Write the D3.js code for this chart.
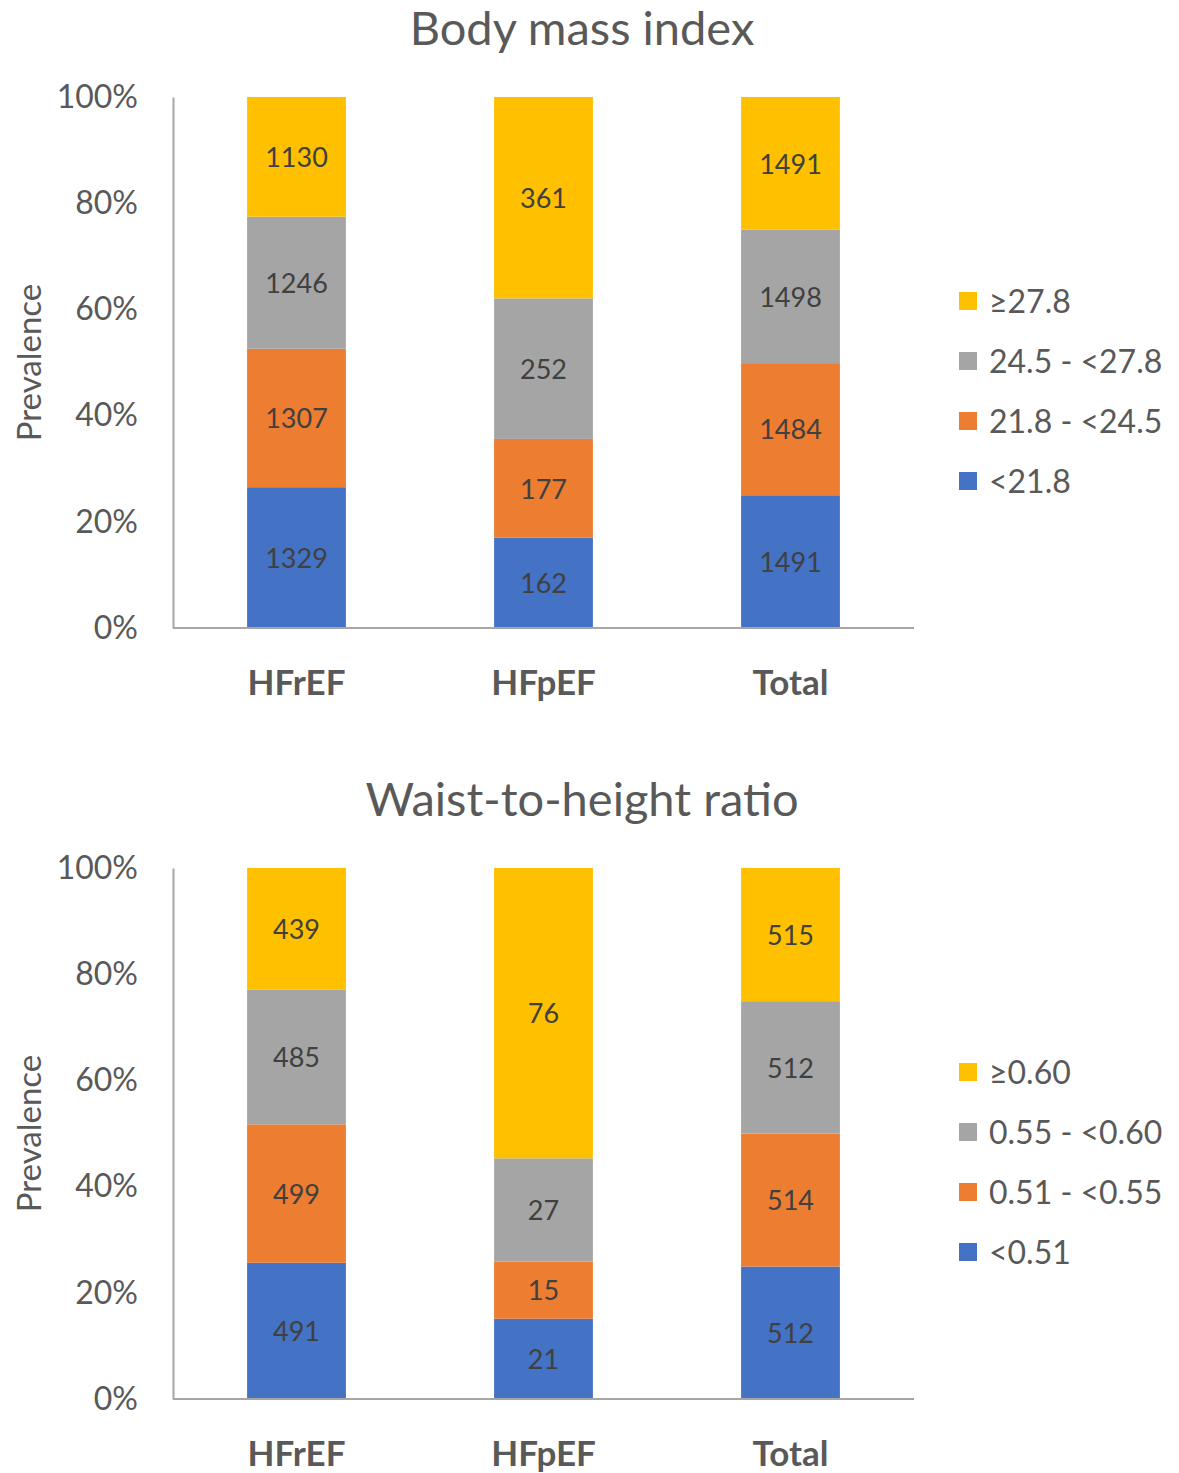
<!DOCTYPE html>
<html>
<head>
<meta charset="utf-8">
<script src="https://cdn.jsdelivr.net/npm/d3@7"></script>
<style>
  html, body { margin: 0; padding: 0; background: #fff; }
  svg { display: block; }
  text { font-family: Lato, "Open Sans", sans-serif; }
</style>
</head>
<body>
<svg id="chart" width="1179" height="1473"></svg>
<script>
const categories = ["HFrEF", "HFpEF", "Total"];
const yTicks = [0, 0.2, 0.4, 0.6, 0.8, 1.0];

const bmiTitle = "Body mass index";
const bmiSeries = ["<21.8", "21.8 - <24.5", "24.5 - <27.8", "\u226527.8"];
const bmiLt218   = [1329, 162, 1491];
const bmi218_245 = [1307, 177, 1484];
const bmi245_278 = [1246, 252, 1498];
const bmiGe278   = [1130, 361, 1491];

const whrTitle = "Waist-to-height ratio";
const whrSeries = ["<0.51", "0.51 - <0.55", "0.55 - <0.60", "\u22650.60"];
const whrLt051   = [491, 21, 512];
const whr051_055 = [499, 15, 514];
const whr055_060 = [485, 27, 512];
const whrGe060   = [439, 76, 515];

const colors = ["#4472C4", "#ED7D31", "#A5A5A5", "#FFC000"];

const svg = d3.select("#chart");

function drawPanel(cfg) {
  const { top, title, series, values } = cfg;
  const g = svg.append("g");
  const x0 = 173, x1 = 914;
  const yTop = top + 97, yBot = top + 628;

  const x = d3.scaleBand().domain(categories).range([x0, x1]).paddingInner(0.6).paddingOuter(0.3);
  const y = d3.scaleLinear().domain([0, 1]).range([yBot, yTop]);

  const rows = categories.map((c, i) => {
    const r = { cat: c };
    series.forEach((s, j) => r[s] = values[j][i]);
    return r;
  });
  const stack = d3.stack().keys(series).offset(d3.stackOffsetExpand);
  const stacked = stack(rows);

  // title
  g.append("text")
    .attr("x", 582).attr("y", top + 45)
    .attr("text-anchor", "middle")
    .attr("font-size", 47)
    .attr("fill", "#595959")
    .text(title);

  // bars
  stacked.forEach((layer, j) => {
    g.selectAll(null).data(layer).enter().append("rect")
      .attr("x", d => x(d.data.cat))
      .attr("width", x.bandwidth())
      .attr("y", d => y(d[1]))
      .attr("height", d => y(d[0]) - y(d[1]))
      .attr("fill", colors[j]);
    g.selectAll(null).data(layer).enter().append("text")
      .attr("x", d => x(d.data.cat) + x.bandwidth() / 2)
      .attr("y", d => (y(d[0]) + y(d[1])) / 2)
      .attr("dy", "0.38em")
      .attr("text-anchor", "middle")
      .attr("font-size", 27)
      .attr("fill", "#404040")
      .text(d => d.data[layer.key]);
  });

  // y axis
  const yAxis = d3.axisLeft(y).tickValues(yTicks).tickFormat(d3.format(".0%")).tickSize(0).tickPadding(35);
  const ya = g.append("g").attr("transform", `translate(${x0},0)`).call(yAxis);
  ya.select(".domain").attr("stroke", "#A6A6A6").attr("stroke-width", 2);
  ya.selectAll("text").attr("font-size", 32).attr("fill", "#595959").attr("font-family", "Lato, 'Open Sans', sans-serif");

  // x axis
  const xAxis = d3.axisBottom(x).tickSize(0).tickPadding(42);
  const xa = g.append("g").attr("transform", `translate(0,${yBot})`).call(xAxis);
  xa.select(".domain").attr("stroke", "#A6A6A6").attr("stroke-width", 2).attr("d", `M${x0},0H${x1}`);
  xa.selectAll("text").attr("font-size", 35).attr("font-weight", "bold").attr("fill", "#595959").attr("font-family", "Lato, 'Open Sans', sans-serif");

  // y title
  g.append("text")
    .attr("transform", `translate(41,${(yTop + yBot) / 2}) rotate(-90)`)
    .attr("text-anchor", "middle")
    .attr("font-size", 33)
    .attr("fill", "#595959")
    .text("Prevalence");

  // legend
  const legendY = [top + 301, top + 361, top + 421, top + 481];
  const order = [3, 2, 1, 0];
  order.forEach((j, k) => {
    g.append("rect").attr("x", 959).attr("y", legendY[k] - 9).attr("width", 18).attr("height", 18).attr("fill", colors[j]);
    g.append("text").attr("x", 989).attr("y", legendY[k]).attr("dy", "0.36em")
      .attr("font-size", 32).attr("fill", "#595959").text(series[j]);
  });
}

drawPanel({ top: 0, title: bmiTitle, series: bmiSeries, values: [bmiLt218, bmi218_245, bmi245_278, bmiGe278] });
drawPanel({ top: 771, title: whrTitle, series: whrSeries, values: [whrLt051, whr051_055, whr055_060, whrGe060] });
</script>
</body>
</html>
